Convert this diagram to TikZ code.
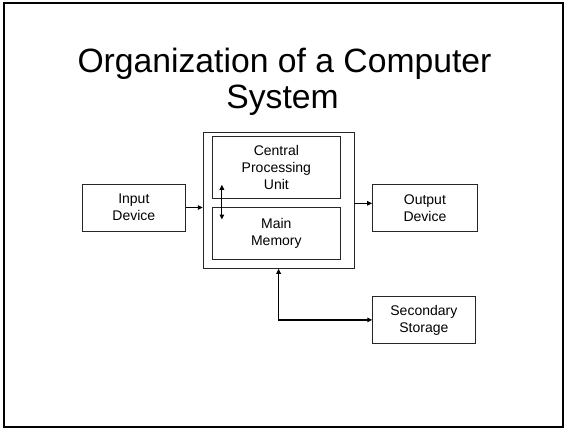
\documentclass[tikz,border=0pt]{standalone}
\usepackage{fontspec}
\setmainfont{Liberation Sans}
\usetikzlibrary{arrows.meta,calc}
\begin{document}
\begin{tikzpicture}[x=1pt,y=-1pt,
  box/.style={draw=black!85,line width=0.9pt,inner sep=0pt,align=center,
    font=\fontsize{14}{17}\selectfont},
  arr/.style={line width=1.2pt,-{Triangle[length=5pt,width=4.5pt]}},
  darr/.style={line width=1.2pt,{Triangle[length=5pt,width=4.5pt]}-{Triangle[length=5pt,width=4.5pt]}},
  ttl/.style={anchor=base,inner sep=0pt,font=\fontsize{33.7}{36}\selectfont}]
\useasboundingbox (0,0) rectangle (565,429);
\draw[line width=2pt] (4,3) rectangle (563,427);
\node[ttl] (t1) at (284.5,72) {Organization of a Computer};
\node[ttl] (t2) at (282.5,108) {System};
\node[box,minimum width=150.7pt,minimum height=136pt] (outer) at (278.65,200.3) {};
\node[box,minimum width=127.3pt,minimum height=61.6pt] (cpu) at (276.35,167.5) {Central\\Processing\\Unit};
\node[box,minimum width=127.3pt,minimum height=51.7pt] (mm) at (276.35,233.15) {Main\\Memory};
\node[box,minimum width=103.7pt,minimum height=47pt] (inp) at (133.85,207.5) {Input\\Device};
\node[box,minimum width=104.8pt,minimum height=47.5pt] (out) at (424.9,207.95) {Output\\Device};
\node[box,minimum width=102.3pt,minimum height=46.8pt] (sec) at (423.85,319.9) {Secondary\\Storage};
\draw[arr] (inp.east) -- (outer.west |- inp.east);
\draw[arr] ($(outer.east)+(0,3)$) -- ($(out.west |- outer.east)+(0,3)$);
\draw[darr] ($(cpu.south west)+(9.6,-14)$) -- ($(mm.north west)+(9.6,12.7)$);
\draw[darr] (outer.south) |- (sec.west);
\end{tikzpicture}
\end{document}
